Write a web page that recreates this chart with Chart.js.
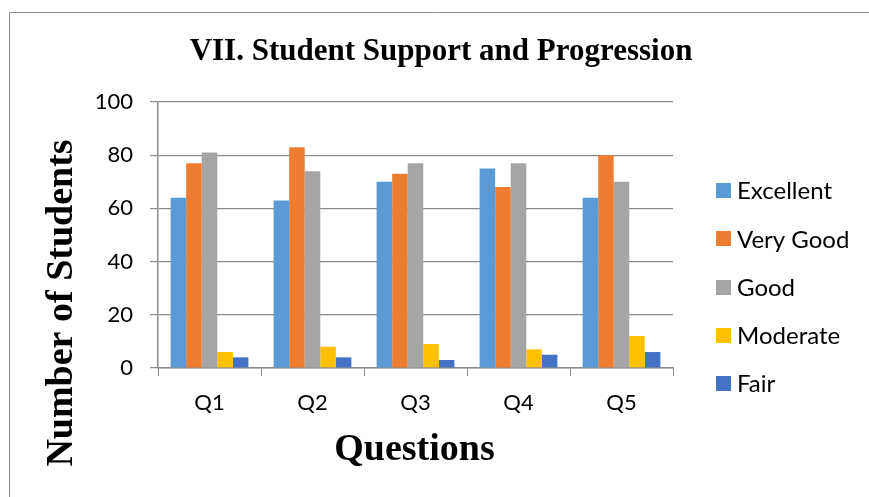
<!DOCTYPE html>
<html>
<head>
<meta charset="utf-8">
<script src="https://cdn.jsdelivr.net/npm/chart.js@4/dist/chart.umd.min.js"></script>
<style>
  html, body { margin: 0; padding: 0; background: #fff; }
  #wrap { width: 869px; height: 497px; position: relative; }
</style>
</head>
<body>
<div id="wrap"><canvas id="c" width="869" height="497"></canvas></div>
<script>
// Survey results per question
const questions = ['Q1', 'Q2', 'Q3', 'Q4', 'Q5'];
const excellent = [64, 63, 70, 75, 64];
const veryGood  = [77, 83, 73, 68, 80];
const good      = [81, 74, 77, 77, 70];
const moderate  = [6, 8, 9, 7, 12];
const fair      = [4, 4, 3, 5, 6];
const yTicks    = [0, 20, 40, 60, 80, 100];

const chartTitle = 'VII. Student Support and Progression';
const xTitle = 'Questions';
const yTitle = 'Number of Students';

const seriesNames  = ['Excellent', 'Very Good', 'Good', 'Moderate', 'Fair'];
const seriesValues = [excellent, veryGood, good, moderate, fair];
const seriesColors = ['#5B9BD5', '#ED7D31', '#A5A5A5', '#FFC000', '#4472C4'];

const tickFont = { family: 'Lato', size: 22 };
const serifBold = (size) => 'bold ' + size + 'px "Liberation Serif", "Times New Roman", serif';
const gridColor = '#8c8c8c';

// Frame, titles and legend drawn around the plot area
const decorations = {
  id: 'decorations',
  beforeDraw(chart) {
    const ctx = chart.ctx;
    ctx.save();
    ctx.fillStyle = '#fff';
    ctx.fillRect(0, 0, chart.width, chart.height);
    ctx.strokeStyle = '#8e8e8e';
    ctx.lineWidth = 1;
    ctx.beginPath();
    ctx.moveTo(9.5, chart.height);
    ctx.lineTo(9.5, 12.5);
    ctx.lineTo(chart.width, 12.5);
    ctx.stroke();
    ctx.restore();
  },
  afterDraw(chart) {
    const ctx = chart.ctx;
    ctx.save();
    ctx.fillStyle = '#000';
    // chart title
    ctx.font = serifBold(31);
    ctx.textAlign = 'center';
    ctx.textBaseline = 'alphabetic';
    ctx.fillText(chartTitle, 441, 60);
    // x axis title
    ctx.font = serifBold(38);
    const area = chart.chartArea;
    ctx.fillText(xTitle, (area.left + area.right) / 2 - 1, 460);
    // y axis title
    ctx.save();
    ctx.translate(72, 303);
    ctx.rotate(-Math.PI / 2);
    ctx.fillText(yTitle, 0, 0);
    ctx.restore();
    // legend
    ctx.font = '24px Lato';
    ctx.textAlign = 'left';
    ctx.textBaseline = 'middle';
    chart.data.datasets.forEach((ds, i) => {
      const cy = 190.5 + i * 48.3;
      ctx.fillStyle = ds.backgroundColor;
      ctx.fillRect(716, Math.round(cy - 7.5), 15, 15);
      ctx.fillStyle = '#000';
      ctx.fillText(ds.label, 737, cy + 1);
    });
    ctx.restore();
  }
};

new Chart(document.getElementById('c'), {
  type: 'bar',
  data: {
    labels: questions,
    datasets: seriesNames.map((name, i) => ({
      label: name,
      data: seriesValues[i],
      backgroundColor: seriesColors[i],
      borderWidth: 0,
      categoryPercentage: 0.755,
      barPercentage: 1.0
    }))
  },
  options: {
    responsive: false,
    animation: false,
    devicePixelRatio: 1,
    layout: { padding: { left: 0, right: 196, top: 102, bottom: 0 } },
    plugins: {
      legend: { display: false },
      title: { display: false },
      tooltip: { enabled: false }
    },
    scales: {
      x: {
        afterFit(scale) { scale.height = 129; },
        grid: {
          display: true,
          drawOnChartArea: false,
          drawTicks: true,
          tickLength: 8,
          color: gridColor,
          offset: true
        },
        border: { display: true, color: gridColor, width: 1.5 },
        ticks: { color: '#000', font: tickFont, padding: 14 }
      },
      y: {
        min: 0,
        max: 100,
        afterFit(scale) { scale.width = 158; },
        afterBuildTicks(scale) { scale.ticks = yTicks.map(v => ({ value: v })); },
        grid: {
          color: gridColor,
          lineWidth: 1.2,
          drawTicks: true,
          tickLength: 8
        },
        border: { display: true, color: gridColor, width: 1.5 },
        ticks: { color: '#000', font: tickFont, padding: 17 }
      }
    }
  },
  plugins: [decorations]
});
</script>
</body>
</html>
